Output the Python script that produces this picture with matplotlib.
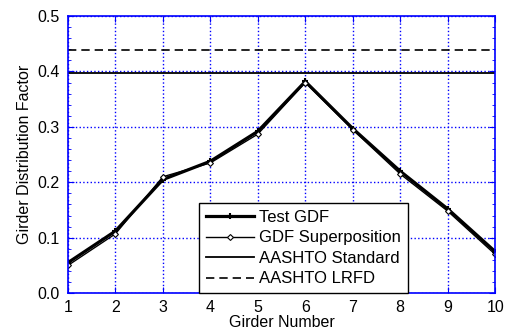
import numpy as np
import matplotlib.pyplot as plt
from matplotlib.ticker import MultipleLocator

girders = [1, 2, 3, 4, 5, 6, 7, 8, 9, 10]
test_gdf = [0.055, 0.112, 0.205, 0.238, 0.292, 0.382, 0.297, 0.220, 0.152, 0.075]
superpos = [0.050, 0.107, 0.210, 0.235, 0.287, 0.380, 0.295, 0.215, 0.148, 0.070]
aashto_std = 0.397
aashto_lrfd = 0.438

plt.rcParams['font.family'] = ['Liberation Sans', 'DejaVu Sans']

fig = plt.figure(figsize=(5.11, 3.35), dpi=100)
ax = fig.add_axes([0.133, 0.125, 0.836, 0.827])

ax.plot(girders, test_gdf, color='black', lw=2.3, marker='+', ms=5, mew=1.5,
        label='Test GDF')
ax.plot(girders, superpos, color='black', lw=1.0, marker='D', ms=3,
        mfc='white', mec='black', mew=0.8, label='GDF Superposition')
ax.axhline(aashto_std, color='black', lw=1.3, label='AASHTO Standard')
ax.axhline(aashto_lrfd, color='black', lw=1.2, ls=(0, (5, 3)),
           label='AASHTO LRFD')

ax.set_xlim(1, 10)
ax.set_ylim(0, 0.5)
ax.set_xticks(girders)
ax.set_yticks([0.0, 0.1, 0.2, 0.3, 0.4, 0.5])
ax.set_yticklabels(['0.0', '0.1', '0.2', '0.3', '0.4', '0.5'])
ax.yaxis.set_minor_locator(MultipleLocator(0.02))
ax.grid(True, color='blue', ls=':', lw=1.0)
ax.tick_params(which='both', direction='in', colors='blue', top=True,
               right=True, labelcolor='black', labelsize=11.5)
ax.tick_params(which='major', length=4, pad=6)
ax.tick_params(axis='x', which='major', pad=5)
ax.tick_params(which='minor', length=2)
for sp in ax.spines.values():
    sp.set_color('blue')
    sp.set_linewidth(1.2)

ax.set_xlabel('Girder Number', fontsize=11.5, labelpad=0)
ax.set_ylabel('Girder Distribution Factor', fontsize=11.5, labelpad=4)

leg = ax.legend(loc='lower center', bbox_to_anchor=(0.551, 0.0), fontsize=12,
                fancybox=False, framealpha=1, edgecolor='black',
                handlelength=2.9, borderpad=0.4, labelspacing=0.33,
                handletextpad=0.3, borderaxespad=0)
leg.get_frame().set_linewidth(1.0)

fig.savefig('out.png', dpi=100)
